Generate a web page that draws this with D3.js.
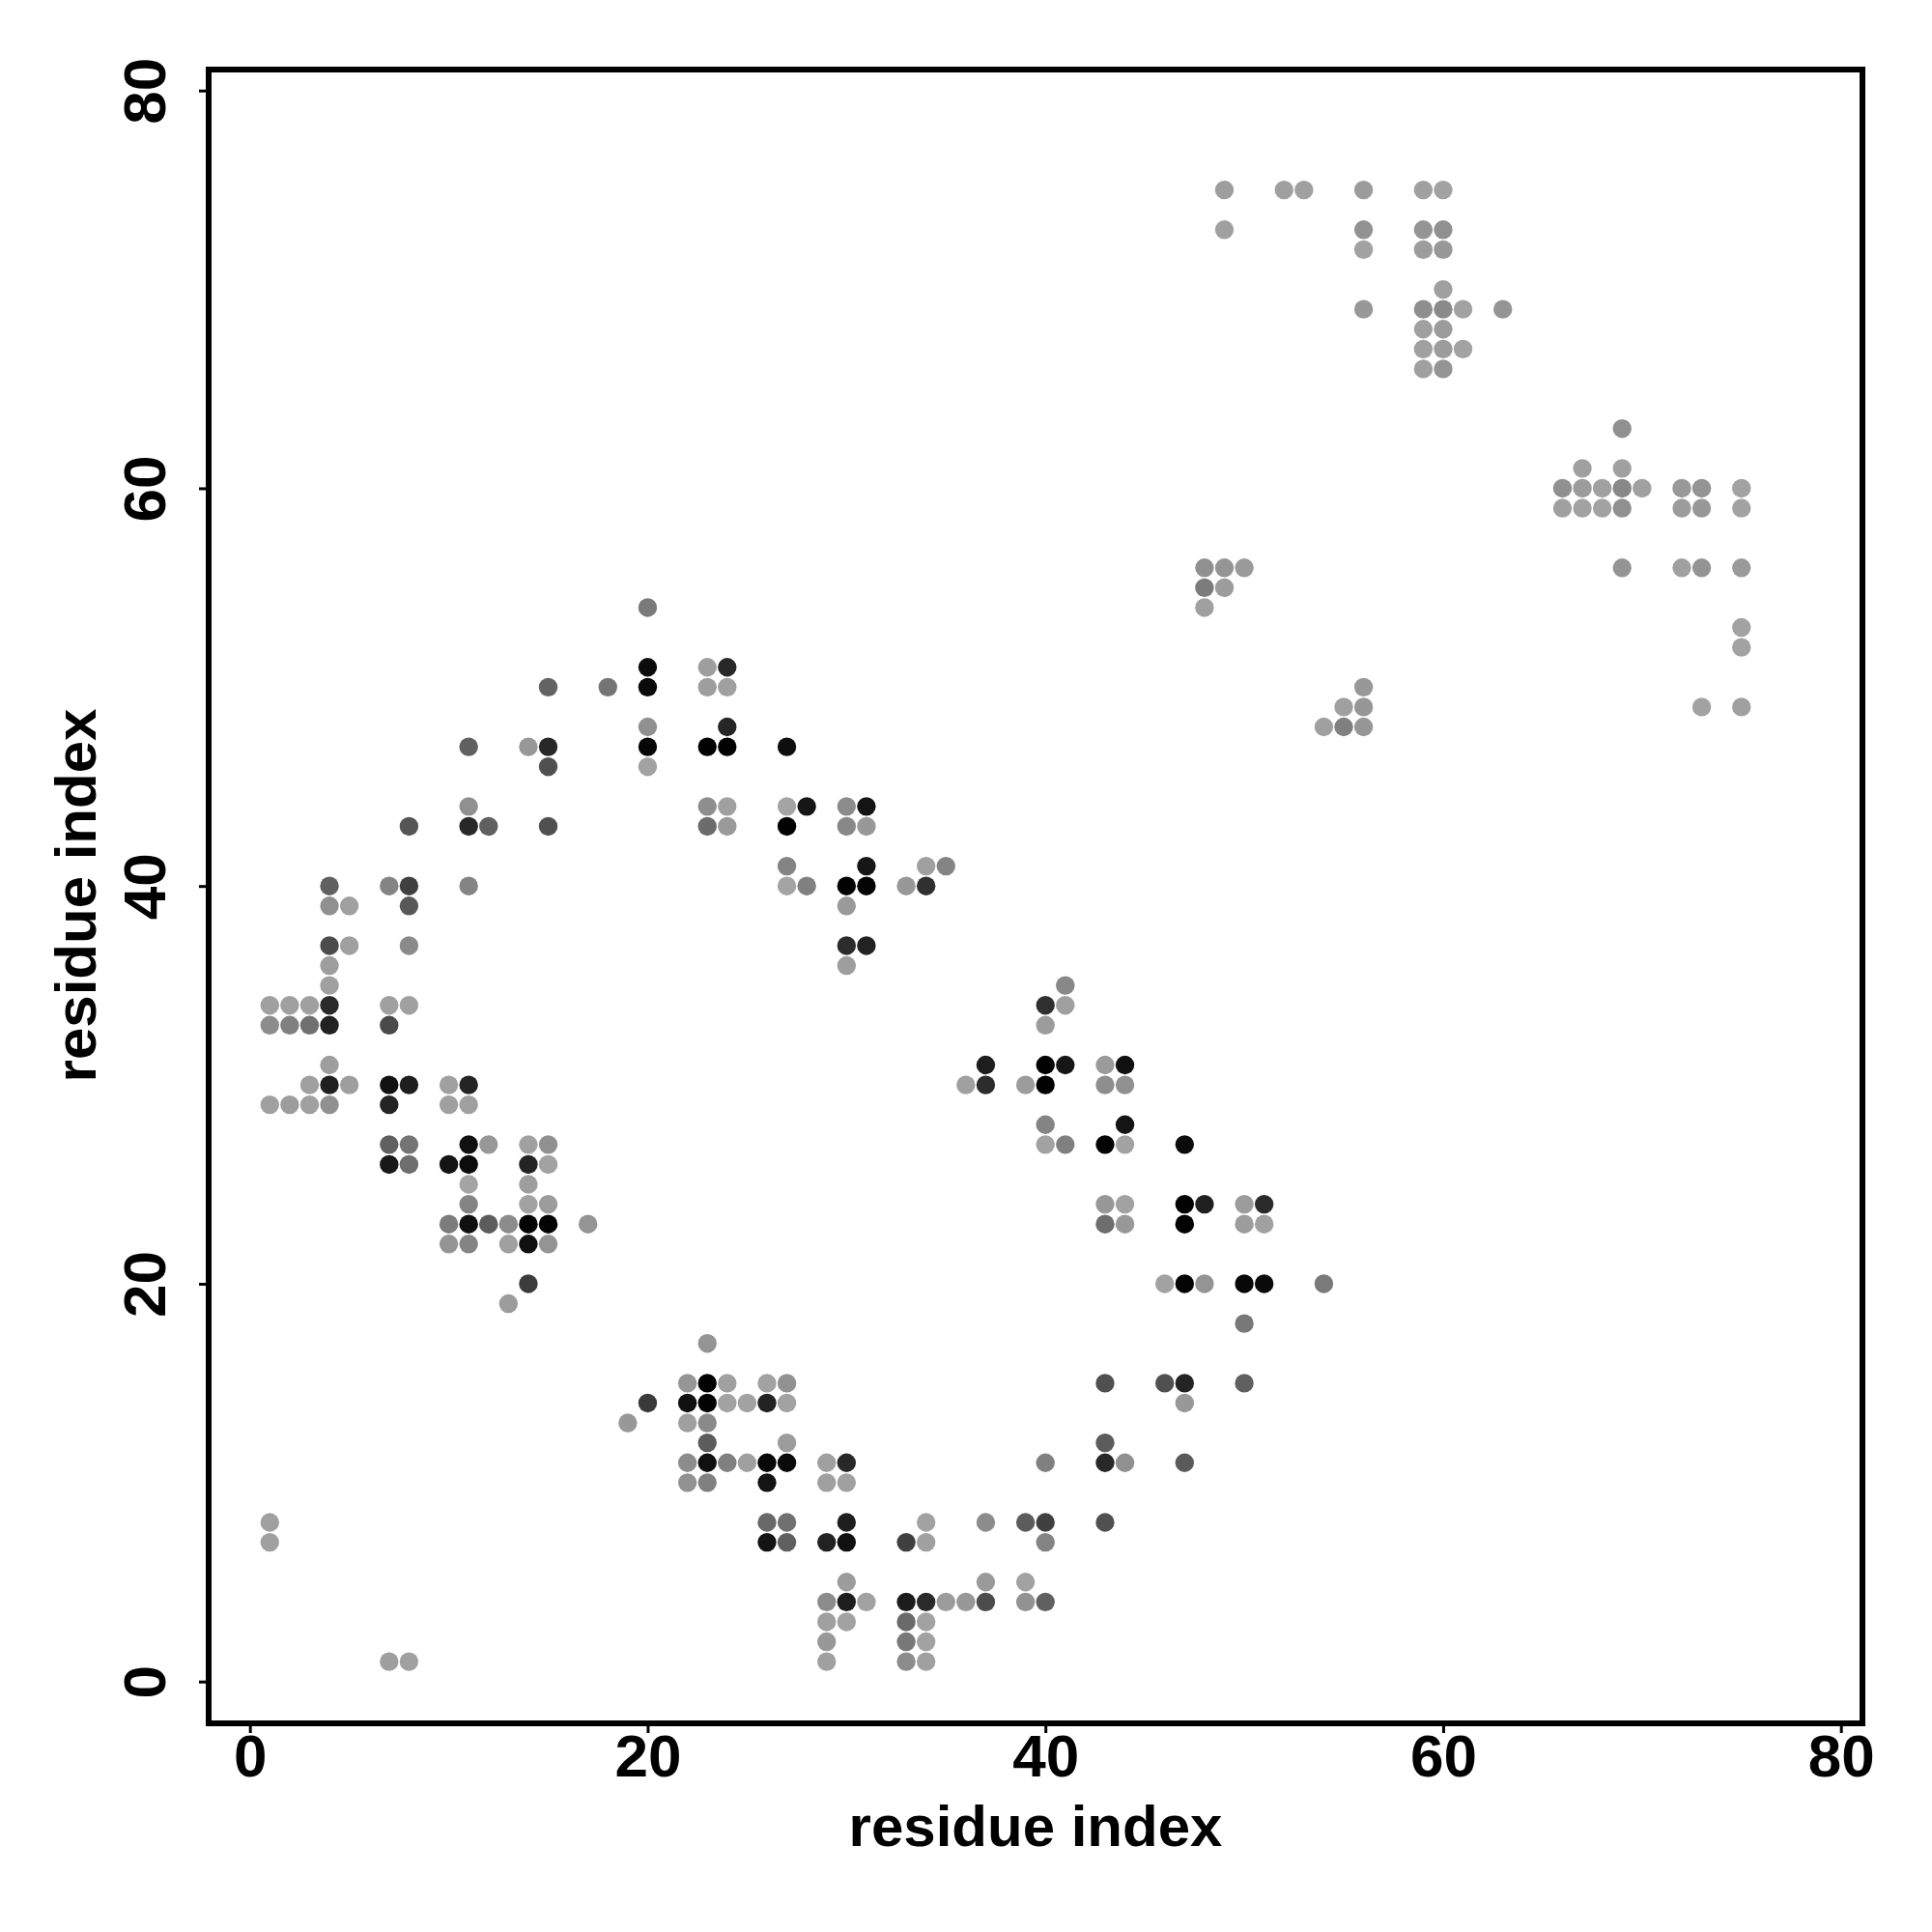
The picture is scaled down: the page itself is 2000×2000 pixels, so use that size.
<!DOCTYPE html>
<html>
<head>
<meta charset="utf-8">
<script src="https://d3js.org/d3.v7.min.js"></script>
<style>
html,body{margin:0;padding:0;background:#fff;}
svg{display:block;}
text{font-family:"Liberation Sans",Arial,sans-serif;font-weight:bold;fill:#000;}
</style>
</head>
<body>
<script>
const axisTicks = [0, 20, 40, 60, 80];
const axisTitle = "residue index";

// Contact map: residue i, residue j, grey level (0 = black, 255 = white).
const contactI = [
  49,52,53,56,59,60,
  49,56,59,60,
  56,59,60,
  60,
  56,59,60,61,63,
  59,60,
  59,60,61,
  59,60,
  69,
  67,69,
  66,67,68,69,70,72,73,75,
  66,67,68,69,72,73,75,
  48,49,50,69,72,73,75,
  48,49,
  20,48,
  75,
  75,
  20,23,24,
  15,18,20,23,24,56,
  55,56,73,75,
  20,24,54,55,56,
  11,14,15,20,23,24,27,
  15,20,
  11,23,24,27,28,30,31,
  8,11,12,15,23,24,27,30,31,
  27,31,34,35,
  4,7,8,11,27,28,30,31,33,34,
  4,5,8,30,
  4,5,8,30,31,
  4,30,
  4,41,
  1,2,3,4,7,8,40,41,
  1,2,3,4,7,40,
  4,37,40,41,43,44,
  3,4,5,7,8,10,11,36,37,39,40,43,44,
  1,2,3,4,7,10,11,
  40,44,
  7,8,11,12,14,15,40,41,43,44,47,
  7,8,10,11,14,15,
  11,14,
  11,14,15,43,44,47,48,50,51,
  10,11,12,13,14,15,17,43,44,47,50,51,
  10,11,13,14,15,
  14,46,47,48,50,51,54,
  13,
  50,
  23,
  22,23,24,26,27,43,46,47,50,
  20,22,23,24,25,26,27,47,
  19,22,23,
  23,27,43,
  22,23,24,25,26,27,29,30,40,43,44,47,
  22,23,26,29,30,
  1,26,27,30,34,37,39,40,43,
  1,26,27,29,30,33,34,40,
  30,37,39,
  29,30,31,33,34,35,36,37,39,40,
  29,30,33,34,
  29,33,34,
  7,8,29,33,34
];
const contactJ = [
  75,75,75,75,75,75,
  73,73,73,73,
  72,72,72,
  70,
  69,69,69,69,69,
  68,68,
  67,67,67,
  66,66,
  63,
  61,61,
  60,60,60,60,60,60,60,60,
  59,59,59,59,59,59,59,
  56,56,56,56,56,56,56,
  55,55,
  54,54,
  53,
  52,
  51,51,51,
  50,50,50,50,50,50,
  49,49,49,49,
  48,48,48,48,48,
  47,47,47,47,47,47,47,
  46,46,
  44,44,44,44,44,44,44,
  43,43,43,43,43,43,43,43,43,
  41,41,41,41,
  40,40,40,40,40,40,40,40,40,40,
  39,39,39,39,
  37,37,37,37,37,
  36,36,
  35,35,
  34,34,34,34,34,34,34,34,
  33,33,33,33,33,33,
  31,31,31,31,31,31,
  30,30,30,30,30,30,30,30,30,30,30,30,30,
  29,29,29,29,29,29,29,
  28,28,
  27,27,27,27,27,27,27,27,27,27,27,
  26,26,26,26,26,26,
  25,25,
  24,24,24,24,24,24,24,24,24,
  23,23,23,23,23,23,23,23,23,23,23,23,
  22,22,22,22,22,
  20,20,20,20,20,20,20,
  19,
  18,
  17,
  15,15,15,15,15,15,15,15,15,
  14,14,14,14,14,14,14,14,
  13,13,13,
  12,12,12,
  11,11,11,11,11,11,11,11,11,11,11,11,
  10,10,10,10,10,
  8,8,8,8,8,8,8,8,8,
  7,7,7,7,7,7,7,7,
  5,5,5,
  4,4,4,4,4,4,4,4,4,4,
  3,3,3,3,
  2,2,2,
  1,1,1,1,1
];
const contactLevel = [
  0x9e,0xa0,0xa0,0x9c,0xa0,0xa2,
  0xa0,0x92,0x94,0x90,
  0xa2,0x9c,0x98,
  0xa0,
  0x98,0x8e,0x8a,0xa2,0x94,
  0xa0,0x9c,
  0xa0,0x9c,0xa2,
  0xa0,0x94,
  0x90,
  0xa0,0xa0,
  0x90,0x9c,0xa0,0x88,0xa0,0x98,0x94,0xa2,
  0xa0,0xa2,0xa2,0x90,0x9c,0x98,0xa2,
  0x90,0x94,0x9a,0x94,0xa0,0x94,0x9a,
  0x7c,0x9c,
  0x7a,0xa0,
  0xa2,
  0xa2,
  0x0c,0x9e,0x28,
  0x63,0x75,0x0a,0x9e,0xa0,0x98,
  0xa0,0x96,0xa2,0xa0,
  0x90,0x26,0xa0,0x80,0x96,
  0x60,0x98,0x28,0x06,0x02,0x02,0x0e,
  0x50,0xa2,
  0x90,0x8e,0xa0,0xa4,0x16,0x8c,0x14,
  0x55,0x28,0x60,0x50,0x6c,0x9a,0x02,0x88,0x98,
  0x84,0x16,0xa0,0x84,
  0x60,0x84,0x40,0x84,0xa4,0x80,0x02,0x04,0x98,0x30,
  0x90,0xa0,0x58,0x9a,
  0x4c,0xa0,0x8a,0x2c,0x22,
  0x9e,0x9e,
  0xa0,0x88,
  0xa0,0xa0,0xa0,0x2a,0xa0,0xa0,0x30,0xa0,
  0x8c,0x80,0x70,0x22,0x4a,0x9c,
  0x9e,0x1e,0x02,0x16,0x9a,0x10,
  0xa0,0x20,0x9e,0x12,0x1e,0xa0,0x24,0xa0,0x2c,0x9c,0x02,0x8e,0x90,
  0xa0,0x9c,0xa0,0x90,0x24,0xa0,0xa0,
  0x84,0x14,
  0x60,0x74,0x10,0x98,0xa0,0x90,0xa2,0x80,0x02,0xa2,0x0c,
  0x18,0x6e,0x14,0x0c,0x24,0xa2,
  0xa4,0x9e,
  0x84,0xa2,0x9c,0x98,0xa2,0x02,0x20,0x9c,0x2a,
  0x7c,0x10,0x5c,0x8c,0x04,0x04,0x94,0x6e,0x98,0x02,0x9c,0xa0,
  0x94,0x84,0xa0,0x10,0x94,
  0x3c,0xa2,0x04,0x94,0x08,0x0a,0x7a,
  0x9c,
  0x78,
  0x94,
  0x96,0x02,0xa0,0xa2,0x92,0x50,0x50,0x24,0x60,
  0x3a,0x10,0x02,0xa2,0xa2,0x22,0xa2,0x98,
  0x98,0xa0,0x8a,
  0x5c,0x9c,0x5c,
  0x8c,0x10,0x80,0xa0,0x08,0x0a,0xa0,0x28,0x80,0x28,0x90,0x5a,
  0x92,0x80,0x14,0xa0,0xa0,
  0xa0,0x68,0x70,0x1e,0xa2,0x8c,0x5c,0x40,0x50,
  0xa0,0x14,0x60,0x22,0x10,0x40,0xa0,0x84,
  0x9c,0x9a,0xa2,
  0x8c,0x1e,0xa2,0x1c,0x2a,0x9c,0x98,0x4c,0x92,0x60,
  0xa0,0xa2,0x6a,0xa2,
  0x98,0x78,0xa2,
  0x9e,0xa0,0xa0,0x8c,0xa0
];

const WIDTH = 2000, HEIGHT = 2000;
const frame = {left: 216, right: 1928, top: 72, bottom: 1784};

const x = d3.scaleLinear().domain([0, 80]).range([258.7, 1905.7]);
const y = d3.scaleLinear().domain([0, 80]).range([1740.7, 93.7]);
const grey = d3.scaleLinear().domain([0, 255]).range(["#000000", "#ffffff"]);

const svg = d3.select("body").append("svg")
  .attr("width", WIDTH).attr("height", HEIGHT)
  .attr("viewBox", `0 0 ${WIDTH} ${HEIGHT}`);

svg.append("rect").attr("width", WIDTH).attr("height", HEIGHT).attr("fill", "#fff");

const contacts = contactI.map((d, k) => ({i: d, j: contactJ[k], level: contactLevel[k]}));

svg.append("g").selectAll("circle").data(contacts).join("circle")
  .attr("cx", d => x(d.i))
  .attr("cy", d => y(d.j))
  .attr("r", 9.7)
  .attr("fill", d => grey(d.level));

svg.append("rect")
  .attr("x", frame.left).attr("y", frame.top)
  .attr("width", frame.right - frame.left).attr("height", frame.bottom - frame.top)
  .attr("fill", "none").attr("stroke", "#000").attr("stroke-width", 6);

const xAxis = svg.append("g")
  .attr("transform", `translate(0,${frame.bottom + 3})`)
  .call(d3.axisBottom(x).tickValues(axisTicks).tickFormat(d3.format("d")).tickSize(7).tickSizeOuter(0));
xAxis.select(".domain").remove();
xAxis.selectAll(".tick line").attr("stroke", "#000").attr("stroke-width", 3);
xAxis.selectAll(".tick text")
  .attr("y", 0).attr("dy", 0)
  .attr("transform", `translate(0,${1838.5 - frame.bottom - 3})`)
  .attr("font-size", 62).attr("text-anchor", "middle");

const yAxis = svg.append("g")
  .attr("transform", `translate(${frame.left - 3},0)`)
  .call(d3.axisLeft(y).tickValues(axisTicks).tickFormat(d3.format("d")).tickSize(7).tickSizeOuter(0));
yAxis.select(".domain").remove();
yAxis.selectAll(".tick line").attr("stroke", "#000").attr("stroke-width", 3);
yAxis.selectAll(".tick text")
  .attr("x", 0).attr("y", 0).attr("dy", 0)
  .attr("transform", `translate(${170.5 - frame.left + 3},0) rotate(-90)`)
  .attr("font-size", 62).attr("text-anchor", "middle");

svg.append("text")
  .attr("x", 1072).attr("y", 1910.5)
  .attr("font-size", 60).attr("text-anchor", "middle")
  .text(axisTitle);

svg.append("text")
  .attr("transform", "translate(98.5,927) rotate(-90)")
  .attr("font-size", 60).attr("text-anchor", "middle")
  .text(axisTitle);
</script>
</body>
</html>
